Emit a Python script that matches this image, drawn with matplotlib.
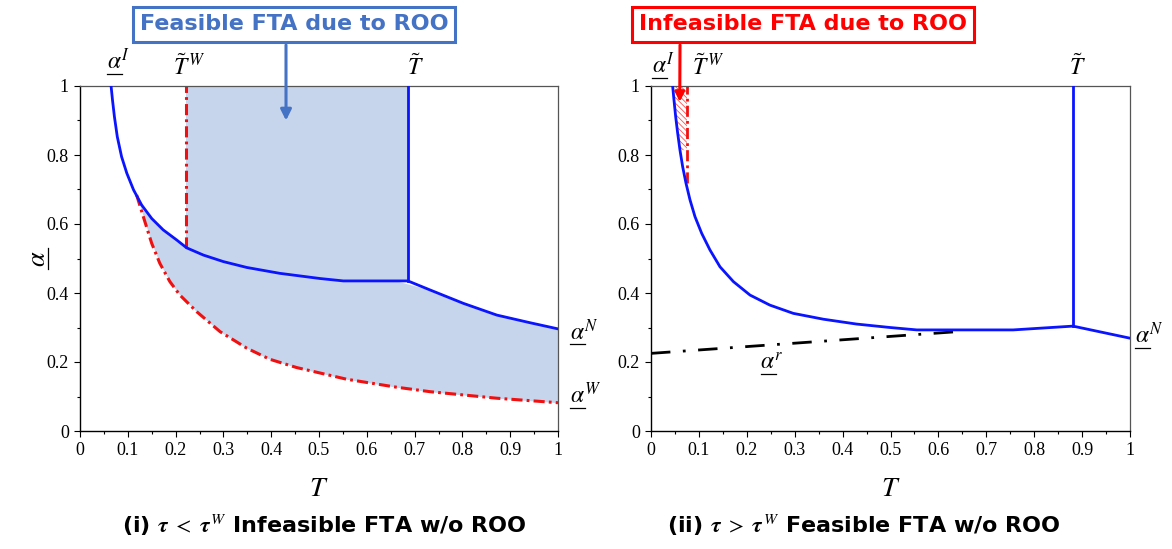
import numpy as np
import matplotlib
matplotlib.use("Agg")
import matplotlib.pyplot as plt
import matplotlib.transforms as mtransforms
from matplotlib.lines import Line2D

plt.rcParams['font.family'] = ['Liberation Serif', 'DejaVu Serif']
plt.rcParams['mathtext.fontset'] = 'stix'
plt.rcParams['lines.scale_dashes'] = False
plt.rcParams['hatch.linewidth'] = 0.6

# ---------------- data ----------------
# Panel (i): tau < tau^W
left_T_N = [0.065, 0.068, 0.072, 0.078, 0.087, 0.098, 0.112, 0.129, 0.150, 0.174,
            0.202, 0.223, 0.258, 0.300, 0.349, 0.418, 0.502, 0.551, 0.686,
            0.732, 0.802, 0.872, 0.941, 1.0]
left_alpha_N = [1.0, 0.959, 0.911, 0.853, 0.795, 0.747, 0.699, 0.655, 0.616, 0.583,
                0.554, 0.531, 0.510, 0.491, 0.474, 0.457, 0.442, 0.435, 0.435,
                0.409, 0.370, 0.336, 0.314, 0.296]
left_T_W = [0.1185, 0.1325, 0.150, 0.167, 0.188, 0.209, 0.244, 0.293, 0.349, 0.397,
            0.453, 0.558, 0.662, 0.732, 0.872, 1.0]
left_alpha_W = [0.684, 0.621, 0.544, 0.486, 0.433, 0.394, 0.346, 0.288, 0.240, 0.208,
                0.184, 0.150, 0.127, 0.114, 0.095, 0.082]
left_T_tilde_W = 0.222
left_T_tilde = 0.686
left_alpha_kink = 0.435
left_alpha_TW = 0.531

# Panel (ii): tau > tau^W
right_T_N = [0.0452, 0.048, 0.0515, 0.0557, 0.0605, 0.0661, 0.0731, 0.0814, 0.0919,
             0.1058, 0.123, 0.144, 0.172, 0.2067, 0.248, 0.297, 0.360, 0.429, 0.499,
             0.555, 0.756, 0.881, 1.0]
right_alpha_N = [1.0, 0.959, 0.911, 0.863, 0.814, 0.766, 0.718, 0.670, 0.621,
                 0.573, 0.525, 0.476, 0.433, 0.394, 0.365, 0.341, 0.324, 0.310, 0.300,
                 0.293, 0.293, 0.304, 0.269]
right_T_r = [0.0, 0.64]
right_alpha_r = [0.225, 0.288]
right_T_tilde_W = 0.075
right_T_tilde = 0.881
right_alpha_kink = 0.304
right_hatch_alpha = [0.79, 1.0]
right_TW_line_alpha = [0.72, 1.0]

x_ticks = [0, 0.1, 0.2, 0.3, 0.4, 0.5, 0.6, 0.7, 0.8, 0.9, 1]
x_ticklabels = ['0', '0.1', '0.2', '0.3', '0.4', '0.5', '0.6', '0.7', '0.8', '0.9', '1']
y_ticks = [0, 0.2, 0.4, 0.6, 0.8, 1]
y_ticklabels = ['0', '0.2', '0.4', '0.6', '0.8', '1']

# ---------------- styling ----------------
BLUE = '#0A14FF'
RED = '#F01010'
FILL = '#C6D4EC'
BOXBLUE = '#4472C4'
BOXRED = '#FF0000'

W, H = 1172, 549
fig = plt.figure(figsize=(W / 100, H / 100), dpi=100)
ax1 = fig.add_axes([80 / W, 1 - 431 / H, 478 / W, 345 / H])
ax2 = fig.add_axes([651 / W, 1 - 431 / H, 479 / W, 345 / H])


def style_axes(ax):
    ax.set_xlim(0, 1)
    ax.set_ylim(0, 1)
    ax.set_xticks(x_ticks)
    ax.set_xticklabels(x_ticklabels)
    ax.set_yticks(y_ticks)
    ax.set_yticklabels(y_ticklabels)
    ax.set_xticks(np.arange(0.05, 1.0, 0.1), minor=True)
    ax.set_yticks(np.arange(0.1, 1.0, 0.2), minor=True)
    ax.tick_params(which='major', direction='out', length=4, width=0.8, labelsize=13, pad=4)
    ax.tick_params(which='minor', direction='out', length=2.5, width=0.8)
    for s in ['left', 'bottom']:
        ax.spines[s].set_color('black')
        ax.spines[s].set_linewidth(1.0)
    for s in ['top', 'right']:
        ax.spines[s].set_color('#555555')
        ax.spines[s].set_linewidth(0.9)
    ax.text(0.5, -0.17, '$T$', transform=ax.transAxes, ha='center', va='center', fontsize=20)


def ul_text(ax, x, y, sup, fs=17, ul_w=0.155):
    """underlined alpha with superscript; (x,y) is left-baseline in data coords"""
    ax.text(x, y, r'$\alpha^{%s}$' % sup, ha='left', va='baseline', fontsize=fs, clip_on=False)
    trans = fig.dpi_scale_trans + mtransforms.ScaledTranslation(x, y, ax.transData)
    ax.add_line(Line2D([0.005, ul_w], [-0.045, -0.045], transform=trans, color='black',
                       lw=0.9, clip_on=False))


for ax in (ax1, ax2):
    style_axes(ax)

# ---- panel (i) ----
TN = np.array(left_T_N)
aN = np.array(left_alpha_N)
TWc = np.array(left_T_W)
aW = np.array(left_alpha_W)
# shaded region between alpha^W and alpha^N
aN_on_W = np.interp(TWc, TN, aN)
ax1.fill_between(TWc, aW, aN_on_W, color=FILL, lw=0, zorder=1)
mask = (TN >= left_T_tilde_W - 1e-3) & (TN <= left_T_tilde)
ax1.fill_between(TN[mask], aN[mask], 1.0, color=FILL, lw=0, zorder=1)
ax1.fill_between([left_T_tilde_W, TN[mask][0]], [left_alpha_TW, aN[mask][0]], 1.0,
                 color=FILL, lw=0, zorder=1)

ax1.plot(TN, aN, color=BLUE, lw=2.0, zorder=3)
ax1.plot([left_T_tilde, left_T_tilde], [left_alpha_kink, 1.0], color=BLUE, lw=2.0, zorder=3)
ax1.plot(TWc, aW, color=RED, lw=2.2, dashes=(8, 3, 2, 3), zorder=2)
ax1.plot([left_T_tilde_W, left_T_tilde_W], [left_alpha_TW, 1.0], color=RED, lw=2.2,
         dashes=(8, 3, 2, 3), zorder=2)

ul_text(ax1, 0.056, 1.049, 'I')
ax1.text(0.195, 1.032, r'$\tilde{T}^{\,W}$', ha='left', va='baseline', fontsize=17, clip_on=False)
ax1.text(0.684, 1.032, r'$\tilde{T}$', ha='left', va='baseline', fontsize=17, clip_on=False)
ul_text(ax1, 1.025, 0.264, 'N')
ul_text(ax1, 1.025, 0.081, 'W')

# y label (rotated underlined alpha)
ax1.text(-0.085, 0.5, r'$\alpha$', transform=ax1.transAxes, rotation=90, ha='center',
         va='center', fontsize=19)
ax1.add_line(Line2D([-0.066, -0.066], [0.47, 0.53], transform=ax1.transAxes, color='black',
                    lw=0.9, clip_on=False))

# ---- panel (ii) ----
rTN = np.array(right_T_N)
raN = np.array(right_alpha_N)
ax2.plot(rTN, raN, color=BLUE, lw=2.0, zorder=3)
ax2.plot([right_T_tilde, right_T_tilde], [right_alpha_kink, 1.0], color=BLUE, lw=2.0, zorder=3)
ax2.plot(right_T_r, right_alpha_r, color='black', lw=2.0, dashes=(14, 9, 2, 9), zorder=2)

# hatched infeasible region between the alpha^N curve and T~W line
sel = raN >= right_hatch_alpha[0] - 0.06
hT = rTN[sel][::-1]
ha_ = raN[sel][::-1]
ax2.fill_betweenx(ha_, hT, right_T_tilde_W, where=ha_ >= right_hatch_alpha[0],
                  facecolor='none', edgecolor='#FF5050', hatch='\\\\\\\\\\\\', lw=0,
                  zorder=1)
ax2.plot([right_T_tilde_W, right_T_tilde_W], right_TW_line_alpha, color=RED, lw=2.0,
         dashes=(8, 3, 2, 3), zorder=2)

ul_text(ax2, 0.002, 1.036, 'I')
ax2.text(0.086, 1.032, r'$\tilde{T}^{\,W}$', ha='left', va='baseline', fontsize=17, clip_on=False)
ax2.text(0.872, 1.032, r'$\tilde{T}$', ha='left', va='baseline', fontsize=17, clip_on=False)
ul_text(ax2, 1.01, 0.255, 'N')
ul_text(ax2, 0.228, 0.177, 'r')

# ---- annotation boxes ----
box_font = ['DejaVu Sans']
fig.text(294 / W, 1 - 24.5 / H, 'Feasible FTA due to ROO', ha='center', va='center',
         fontsize=16, fontweight='bold', family=box_font, color=BOXBLUE,
         bbox=dict(boxstyle='square,pad=0.32', fc='white', ec=BOXBLUE, lw=2.2))
ax1.annotate('', xy=(0.431, 0.90), xycoords='data', xytext=(286 / W, 1 - 45 / H),
             textcoords='figure fraction',
             arrowprops=dict(arrowstyle='-|>', color=BOXBLUE, lw=2.2, mutation_scale=16,
                             shrinkA=0, shrinkB=0), zorder=5)

fig.text(803 / W, 1 - 24.5 / H, 'Infeasible FTA due to ROO', ha='center', va='center',
         fontsize=16, fontweight='bold', family=box_font, color=BOXRED,
         bbox=dict(boxstyle='square,pad=0.32', fc='white', ec=BOXRED, lw=2.2))
ax2.annotate('', xy=(0.06, 0.954), xycoords='data', xytext=(680 / W, 1 - 45 / H),
             textcoords='figure fraction',
             arrowprops=dict(arrowstyle='-|>', color=BOXRED, lw=2.2, mutation_scale=14,
                             shrinkA=0, shrinkB=0), zorder=5)

# ---- panel titles ----
title_font = ['DejaVu Sans']
fig.text(324 / W, 1 - 525 / H,
         r'(i) $\boldsymbol{\tau}\ <\ \boldsymbol{\tau}^{\,W}$ Infeasible FTA w/o ROO',
         ha='center', va='center', fontsize=16, fontweight='bold', family=title_font)
fig.text(864 / W, 1 - 525 / H,
         r'(ii) $\boldsymbol{\tau}\ >\ \boldsymbol{\tau}^{\,W}$ Feasible FTA w/o ROO',
         ha='center', va='center', fontsize=16, fontweight='bold', family=title_font)

fig.savefig('out.png', dpi=100)
